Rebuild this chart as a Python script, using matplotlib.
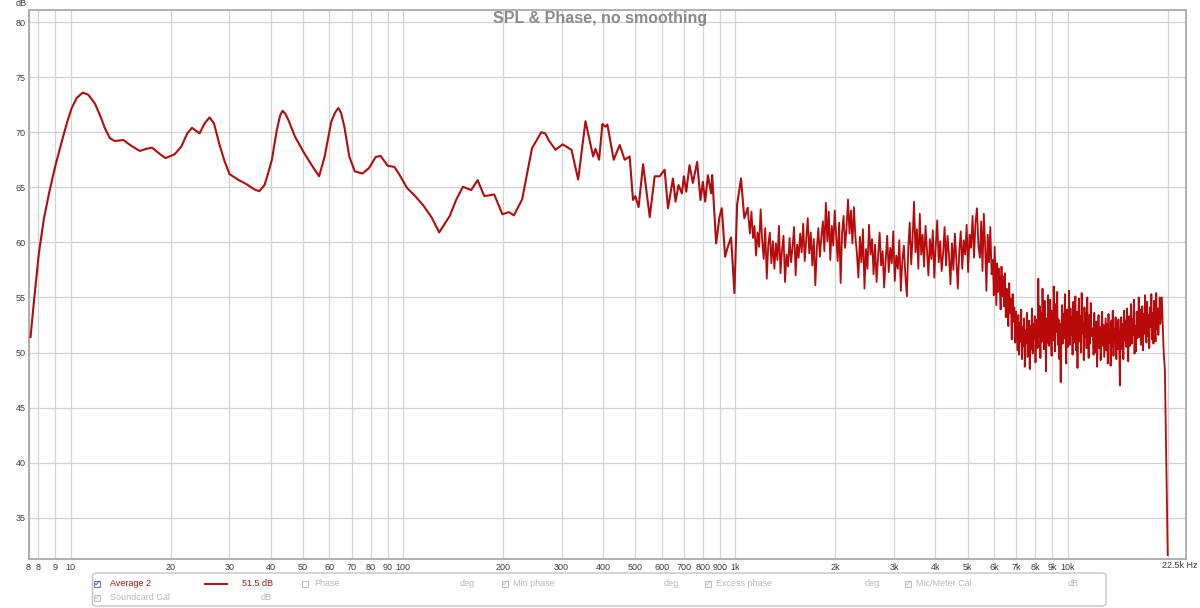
import numpy as np
import matplotlib
matplotlib.use('Agg')
import matplotlib.pyplot as plt
from matplotlib.patches import FancyBboxPatch, Rectangle
from matplotlib.lines import Line2D

# ---------------- data ----------------
freq_low = [7.57, 7.76, 8.02, 8.30, 8.61, 8.98, 9.40, 9.73, 10.07, 10.42, 10.86, 11.30, 11.83,
            12.25, 12.68, 13.13, 13.59, 14.39, 15.24, 16.15, 16.90, 17.57, 18.32, 19.27, 20.55,
            21.52, 22.43, 23.16, 24.42, 25.29, 26.17, 26.99, 28.05, 29.05, 30.06, 31.85, 33.74,
            35.75, 36.95, 38.3, 39.3, 40.3, 41.7, 42.7, 43.4, 44.2, 45.2, 47.3, 50.1, 53.0,
            55.9, 58.1, 60.8, 62.5, 63.9, 65.1, 66.6, 68.9, 71.6, 75.5, 79.0, 82.7, 85.6, 90.0,
            94.2, 97.5, 102.8, 108.8, 115.1, 122.0, 128.5, 138.2, 144.7, 151.4, 160.3, 167.7,
            175.6, 188.1, 199.1, 208.4, 215.6, 228.2, 244.4, 260.6, 267.9, 274.0,
            287.7, 302.0, 321.4, 336.5, 354.0,
            373.4, 379.4, 389.0, 398.0, 406.4, 412.0, 430.5, 448.7, 464.5, 480.8, 492.0,
            500.0, 511.5, 527.6, 552.5, 571.7, 591.8, 612.6, 627.0, 649.0, 660.7, 674.5,
            690.5, 700.0, 711.6, 727.8, 745.0, 767.4, 785.3, 798.4, 811.5, 826.6, 845.7,
            851.6, 875.4, 895.7, 910.3, 931.5, 948.8, 970.9, 993.5, 1012.0, 1040.0,
            1064.0, 1089.0]
spl_low = [51.4, 54.8, 59.0, 62.1, 64.5, 66.9, 69.15, 70.8, 72.2, 73.1, 73.6, 73.4, 72.6,
           71.55, 70.35, 69.45, 69.2, 69.3, 68.75, 68.3, 68.5, 68.6, 68.15, 67.65, 68.0,
           68.7, 69.9, 70.4, 69.9, 70.8, 71.35, 70.8, 68.85, 67.35, 66.2, 65.7, 65.3,
           64.8, 64.65, 65.2, 66.3, 67.5, 70.2, 71.55, 71.95, 71.7, 71.1, 69.6, 68.25, 67.05,
           66.0, 67.8, 70.95, 71.8, 72.2, 71.75, 70.5, 67.8, 66.45, 66.25, 66.75, 67.75, 67.85, 66.95,
           66.85, 66.15, 64.95, 64.2, 63.35, 62.25, 60.9, 62.4, 63.9, 65.05, 64.75, 65.65,
           64.2, 64.35, 62.55, 62.75, 62.45, 63.9, 68.55, 70.0, 69.9, 69.3,
           68.4, 68.9, 68.4, 65.7, 71.0,
           67.8, 68.5, 67.5, 70.75, 70.5, 70.7, 67.5, 68.85, 67.5, 67.8, 63.85,
           64.2, 63.2, 67.1, 62.3, 66.0, 66.0, 66.6, 63.1, 65.8, 63.7, 65.2,
           64.45, 66.0, 64.6, 67.0, 65.4, 67.3, 63.85, 65.5, 63.7, 66.1, 64.45,
           66.1, 59.9, 62.3, 63.1, 58.7, 59.6, 60.45, 55.4, 63.4, 65.8,
           62.2, 63.1]

# high-frequency (unsmoothed, noisy) part, read segment by segment
seg_edges_hz = [1106, 1297, 1834, 2321, 3282, 3771, 5443, 5957, 7035, 8080, 11905, 14355, 19200]
spl_seg_a = [60.8, 62.8, 60.4, 61.5, 58.8, 60.9, 59.6, 63.0, 60.2, 58.5, 61.3, 56.7, 59.8, 60.9, 58.1]
spl_seg_b = [60.1, 57.6, 59.9, 58.4, 61.5, 57.2, 59.3, 60.6, 56.4, 58.9, 57.8, 60.4, 58.2, 59.6,
             61.4, 57.0, 59.8, 58.6, 60.8, 59.1, 61.7, 58.3, 60.2, 62.2, 59.0, 60.9, 57.9, 60.3,
             56.1, 59.4, 61.3, 58.7, 60.5]
spl_seg_c = [61.9, 59.2, 63.6, 60.1, 62.8, 58.4, 61.5, 59.7, 62.9, 60.6, 58.3, 61.8, 56.3, 60.9,
             62.4, 59.5, 61.3, 63.9, 60.8, 62.9, 59.9, 63.2, 60.5]
spl_seg_d = [59.0, 56.8, 60.5, 58.2, 61.2, 55.8, 59.4, 57.6, 61.6, 58.9, 60.3, 57.1, 59.8, 56.4,
             58.7, 60.9, 57.9, 59.2, 55.9, 58.4, 60.6, 57.3, 59.5, 58.1, 61.0, 56.5, 58.8, 57.6,
             60.2, 55.6, 58.3, 59.7, 57.0]
spl_seg_e = [55.1, 59.6, 61.8, 58.0, 60.4, 63.7, 59.1, 61.2, 57.6, 62.6, 58.9, 60.7, 57.8, 61.5]
spl_seg_f = [59.4, 57.0, 60.3, 58.5, 61.1, 56.8, 59.7, 62.0, 58.2, 60.1, 57.4, 59.0, 61.4, 57.9,
             60.6, 58.8, 56.2, 59.9, 57.5, 60.8, 58.4, 55.8, 59.2, 61.0, 57.6, 60.2, 58.9, 61.6,
             57.3, 60.7, 59.5, 62.4, 58.6, 61.8, 63.1, 59.7]
spl_seg_g = [58.6, 61.9, 57.4, 62.6, 59.8, 55.6, 60.7, 58.2, 61.4, 57.1]
spl_seg_h = [58.4, 55.2, 59.6, 56.8, 54.3, 58.1, 55.5, 57.6, 56.0, 53.9, 57.8, 55.1, 56.9, 54.2,
             57.2, 53.2, 55.8, 54.4, 52.4, 56.3, 53.6, 54.9, 51.2, 55.3, 52.8, 54.1, 50.9, 53.7]
spl_seg_i = [52.1, 50.2, 53.4, 49.8, 52.7, 51.0, 53.9, 49.4, 52.3, 50.6, 53.1, 48.7, 52.0, 50.9,
             53.6, 49.6, 51.8, 52.9, 48.5, 52.4, 50.3, 54.0, 49.9, 52.6, 51.2, 53.3, 49.1, 52.2]
spl_seg_j = [53.0, 50.4, 56.7, 51.4, 54.2, 49.5, 53.6, 51.0, 55.8, 52.0, 50.3, 54.7, 51.8, 48.3,
             53.1, 50.9, 55.2, 50.6, 52.9, 54.8, 51.5, 49.7, 53.8, 51.1, 56.0, 52.3, 50.1, 54.4,
             51.9, 55.5, 50.7, 53.0, 49.4, 52.6, 47.3, 51.7, 54.3, 50.8, 53.5, 51.3, 55.3, 51.2,
             49.0, 53.9, 50.5, 52.1, 55.6, 50.7, 54.0, 51.6, 53.2, 49.8, 54.6, 50.9, 52.8, 55.1,
             50.2, 53.7, 48.6, 52.4, 54.9, 51.0, 53.3, 50.0, 55.4, 51.8, 52.7, 49.3, 54.1, 51.4,
             53.6, 50.4, 55.0, 51.9, 49.5, 53.4, 50.8, 54.5, 51.5, 52.2]
spl_seg_k = [52.0, 49.8, 53.6, 51.2, 50.0, 52.8, 48.7, 51.6, 53.4, 50.4, 52.3, 49.3, 51.8, 53.7,
             50.6, 52.5, 49.6, 51.3, 53.1, 50.2, 52.6, 49.0, 53.5, 50.9, 51.9, 48.8, 52.9, 50.5,
             53.8, 49.7, 52.1, 51.0, 53.2, 49.4, 52.7, 50.3, 53.0, 50.8]
spl_seg_l = [47.0, 51.8, 53.2, 50.3, 52.6, 49.4, 53.8, 51.1, 52.9, 50.5, 54.0, 51.9, 49.2, 53.3,
             50.6, 52.0, 54.4, 50.8, 53.0, 51.6, 54.8, 49.9, 52.4, 50.1, 53.7, 51.3, 52.2, 55.0,
             51.4, 53.9, 50.7, 52.8, 54.2, 50.2, 53.5, 51.7, 55.2, 52.0, 50.9, 54.6, 51.5, 53.4,
             50.4, 54.1, 52.3, 55.3, 51.2, 53.6, 50.8, 54.7, 52.5, 51.0, 55.4, 52.1, 54.0, 51.6,
             53.1, 55.0, 52.6, 53.8]
freq_tail = [19200, 19450, 19610, 20000]
spl_tail = [55.0, 50.0, 48.4, 31.6]

xtick_vals = [7.47, 8, 9, 10, 20, 30, 40, 50, 60, 70, 80, 90, 100, 200, 300, 400, 500, 600,
              700, 800, 900, 1000, 2000, 3000, 4000, 5000, 6000, 7000, 8000, 9000, 10000]
xtick_labels = ['8', '8', '9', '10', '20', '30', '40', '50', '60', '70', '80', '90', '100',
                '200', '300', '400', '500', '600', '700', '800', '900', '1k', '2k', '3k', '4k',
                '5k', '6k', '7k', '8k', '9k', '10k']
ytick_vals = [35, 40, 45, 50, 55, 60, 65, 70, 75, 80]

# ---------------- build series ----------------
segs = [spl_seg_a, spl_seg_b, spl_seg_c, spl_seg_d, spl_seg_e, spl_seg_f, spl_seg_g,
        spl_seg_h, spl_seg_i, spl_seg_j, spl_seg_k, spl_seg_l]
f_hf, s_hf = [freq_low[-1]], [spl_low[-1]]
for i, seg in enumerate(segs):
    f_hf.extend(np.geomspace(seg_edges_hz[i], seg_edges_hz[i + 1], len(seg), endpoint=False))
    s_hf.extend(seg)
f_hf = np.concatenate([f_hf, freq_tail])
s_hf = np.concatenate([s_hf, spl_tail])

# ---------------- figure ----------------
W, H = 1200, 608
fig = plt.figure(figsize=(12, 6.08), dpi=100)
fig.patch.set_facecolor('white')
def fx(x): return x / W
def fy(y): return 1 - y / H

FONT = ['Liberation Sans', 'DejaVu Sans']
ax = fig.add_axes([fx(28.6), fy(559), fx(1186) - fx(28.6), fy(10) - fy(559)])
curve_color = '#b00e0e'
ax.plot(freq_low, spl_low, color=curve_color, lw=1.5, zorder=3)
ax.plot(f_hf, s_hf, color='#b80a0a', lw=1.3, zorder=3)
ax.set_xscale('log')
ax.set_xlim(7.47, 22700)
ax.set_ylim(31.25, 81.1)

ax.set_xticks(xtick_vals)
ax.set_xticklabels(xtick_labels)
ax.xaxis.set_minor_locator(matplotlib.ticker.FixedLocator([20000]))
ax.xaxis.set_minor_formatter(matplotlib.ticker.NullFormatter())
ax.set_yticks(ytick_vals)
ax.set_yticklabels([str(v) for v in ytick_vals])
ax.tick_params(axis='both', which='both', length=0, labelsize=6.5, labelcolor='#3c3c3c')
ax.tick_params(axis='x', pad=3.0)
ax.tick_params(axis='y', pad=2)
for lab in ax.get_xticklabels() + ax.get_yticklabels():
    lab.set_fontfamily(FONT)
ax.grid(True, which='both', color='#d2d2d2', lw=0.9, zorder=0)
ax.set_axisbelow(True)
for sp in ax.spines.values():
    sp.set_color('#aaaaaa')
    sp.set_linewidth(1.3)

# title inside plot area
fig.text(fx(600), fy(19), 'SPL & Phase, no smoothing', ha='center', va='center',
         fontsize=11.5, fontweight='bold', color='#8a8a8a', family=FONT, zorder=5)
fig.text(fx(21), fy(4), 'dB', ha='center', va='center', fontsize=6.5, color='#3c3c3c', family=FONT)
fig.text(fx(1198), fy(566), '22.5k Hz', ha='right', va='center', fontsize=6.5,
         color='#3c3c3c', family=FONT)

# ---------------- legend panel ----------------
box = FancyBboxPatch((fx(92.5), fy(606)), fx(1106) - fx(92.5), fy(573) - fy(606),
                     boxstyle='round,pad=0,rounding_size=0.004', transform=fig.transFigure,
                     facecolor='white', edgecolor='#c4c4c4', lw=1.0)
fig.patches.append(box)

gray = '#b8b8b8'
red_txt = '#a01818'

def checkbox(xc, yc, checked=True, active=False):
    s = 6.5
    edge = '#6b74b8' if active else '#c0c0c0'
    r = Rectangle((fx(xc - s / 2), fy(yc + s / 2)), s / W, s / H, transform=fig.transFigure,
                  facecolor='white', edgecolor=edge, lw=0.8)
    fig.patches.append(r)
    if checked:
        fig.text(fx(xc + 0.3), fy(yc - 0.2), '\u2713', ha='center', va='center', fontsize=6,
                 color='#2a3a9a' if active else '#b0b0b0', family=['DejaVu Sans'])

def label(x, y, s, color=gray, ha='left'):
    fig.text(fx(x), fy(y), s, ha=ha, va='center', fontsize=6.5, color=color, family=FONT)

r1, r2 = 584, 598
checkbox(97, r1, True, True)
label(110, r1, 'Average 2', red_txt)
fig.lines.append(Line2D([fx(205), fx(227)], [fy(r1), fy(r1)], transform=fig.transFigure,
                        color=curve_color, lw=1.4))
label(273, r1, '51.5 dB', red_txt, ha='right')
checkbox(305, r1, False)
label(314, r1, 'Phase')
label(467, r1, 'deg', ha='center')
checkbox(505, r1, True)
label(513, r1, 'Min phase')
label(671, r1, 'deg', ha='center')
checkbox(708, r1, True)
label(716, r1, 'Excess phase')
label(872, r1, 'deg', ha='center')
checkbox(908, r1, True)
label(916, r1, 'Mic/Meter Cal')
label(1073, r1, 'dB', ha='center')
checkbox(97, r2, True)
label(110, r2, 'Soundcard Cal')
label(266, r2, 'dB', ha='center')

fig.savefig('out.png', dpi=100)
